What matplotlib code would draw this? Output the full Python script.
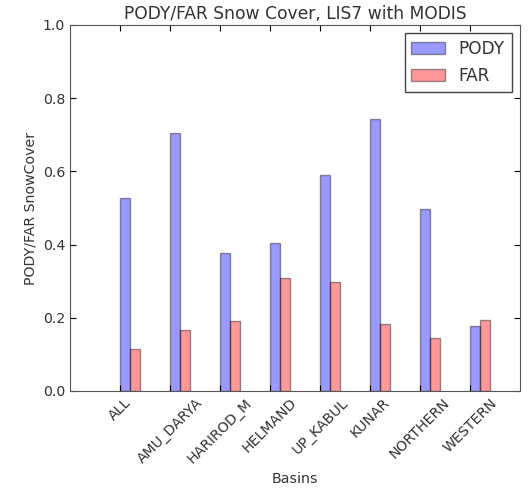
import matplotlib
matplotlib.use('Agg')
import matplotlib.pyplot as plt
import numpy as np

basins = ["ALL", "AMU_DARYA", "HARIROD_M", "HELMAND", "UP_KABUL",
          "KUNAR", "NORTHERN", "WESTERN"]
pody = [0.527, 0.706, 0.376, 0.405, 0.589, 0.742, 0.498, 0.178]
far  = [0.115, 0.166, 0.191, 0.309, 0.298, 0.183, 0.145, 0.195]

width = 0.2
idx = np.arange(len(basins))

fig = plt.figure(figsize=(5.29, 4.92), dpi=100, facecolor="white")
ax = fig.add_axes([70 / 529, 101 / 492, 450 / 529, 366 / 492])

ax.bar(idx, pody, width, align="edge", color="b", alpha=0.4,
       edgecolor="k", linewidth=1, label="PODY")
ax.bar(idx + width, far, width, align="edge", color="r", alpha=0.4,
       edgecolor="k", linewidth=1, label="FAR")

ax.set_xlim(-1, 8)
ax.set_ylim(0, 1.0)
ax.set_yticks(np.arange(0, 1.01, 0.2))
ax.set_xticks(idx)
ax.set_xticklabels(basins, rotation=45, fontsize=10.2)
ax.tick_params(axis="y", labelsize=10.2)
ax.tick_params(direction="in", top=True, right=True, length=4, width=0.8,
               labelcolor="#333333")

ax.set_xlabel("Basins", fontsize=10.2, color="#333333")
ax.set_ylabel("PODY/FAR SnowCover", fontsize=10.2, color="#333333")
ax.set_title("PODY/FAR Snow Cover, LIS7 with MODIS", fontsize=12.3,
             pad=4, color="#333333")

leg = ax.legend(loc="upper right", fontsize=12.2, fancybox=False,
                framealpha=1, edgecolor="#444444", handlelength=2.0,
                borderaxespad=0.5)
leg.get_frame().set_linewidth(1.0)
for t in leg.get_texts():
    t.set_color("#333333")

for spine in ax.spines.values():
    spine.set_edgecolor("#555555")

fig.savefig("out.png", dpi=100)
plt.close()
